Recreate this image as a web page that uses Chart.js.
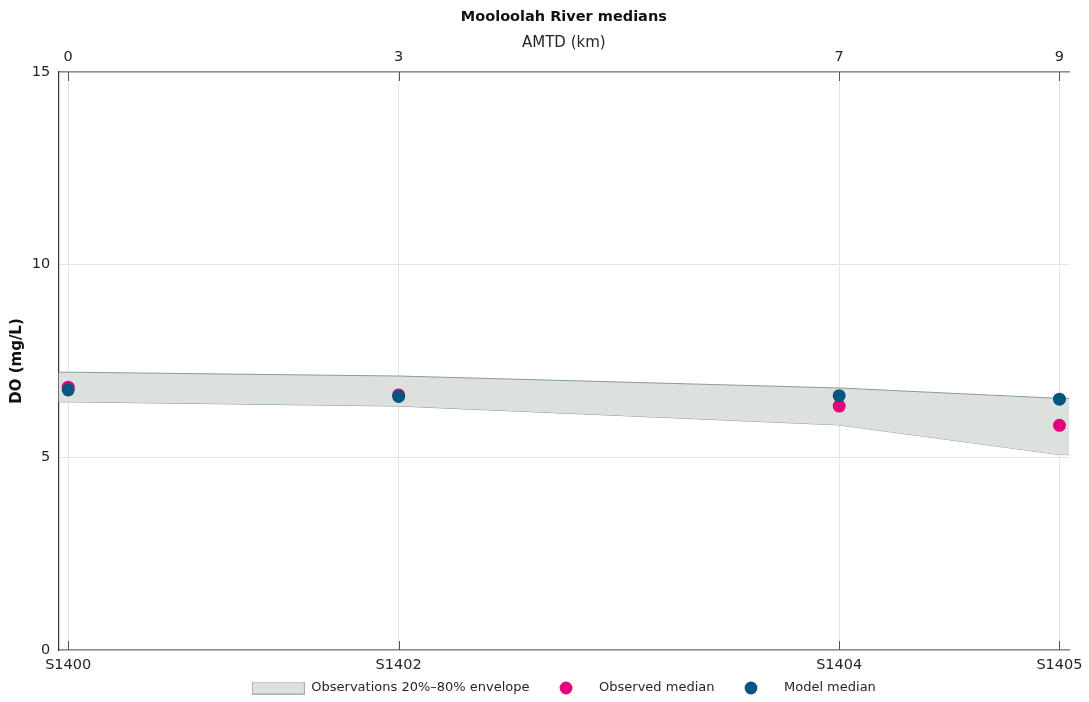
<!DOCTYPE html>
<html><head><meta charset="utf-8">
<script src="https://cdn.jsdelivr.net/npm/chart.js@4.4.1/dist/chart.umd.min.js"></script>
<style>html,body{margin:0;padding:0;background:#fff;}canvas{display:block;}</style>
</head><body>
<canvas id="c" width="1089" height="702"></canvas>
<script>
// ---- data ----
const amtdKm = [0, 3, 7, 9];
const siteLabels = ['S1400', 'S1402', 'S1404', 'S1405'];
const envLower = [6.44, 6.33, 5.84, 5.07];
const envUpper = [7.21, 7.11, 6.80, 6.53];
const observedMedian = [6.82, 6.62, 6.33, 5.83];
const modelMedian = [6.75, 6.58, 6.60, 6.51];
const xTicks = [0, 3, 7, 9];
const yTicks = [0, 5, 10, 15];
const xMin = -0.09, xMax = 9.09;
const yMin = 0, yMax = 15;

// ---- helpers ----
const toPts = (ys) => amtdKm.map((x, i) => ({ x: x, y: ys[i] }));
const envPts = (ys) => [{ x: xMin, y: ys[0] }].concat(toPts(ys), [{ x: xMax, y: ys[ys.length - 1] }]);

const PINK = '#e5007d', BLUE = '#00567f', ENV_FILL = '#dce1de', ENV_LINE = '#8a9c94';

function dotImg(color) {
  const c = document.createElement('canvas'); c.width = 14; c.height = 14;
  const g = c.getContext('2d'); g.fillStyle = color; g.beginPath(); g.arc(7, 7, 6.4, 0, Math.PI * 2); g.fill();
  return c;
}
function rectImg() {
  const c = document.createElement('canvas'); c.width = 53; c.height = 13;
  const g = c.getContext('2d'); g.fillStyle = ENV_FILL; g.fillRect(0, 0, 53, 13);
  g.strokeStyle = '#a7b0ab'; g.lineWidth = 1; g.strokeRect(0.5, 0.5, 52, 12);
  return c;
}
const legendImgs = { 1: rectImg(), 2: dotImg(PINK), 3: dotImg(BLUE) };

Chart.defaults.font.family = '"DejaVu Sans", sans-serif';
Chart.defaults.color = '#262626';

const setTicks = (vals) => (s) => { s.ticks = vals.map(v => ({ value: v })); };

const innerTicks = {
  id: 'innerTicks',
  afterDraw(chart) {
    const { ctx, chartArea: a, scales } = chart;
    ctx.save();
    ctx.strokeStyle = '#555'; ctx.lineWidth = 1;
    xTicks.forEach(v => {
      const px = Math.round(scales.x.getPixelForValue(v)) + 0.5;
      ctx.beginPath();
      ctx.moveTo(px, a.top); ctx.lineTo(px, a.top + 9);
      ctx.moveTo(px, a.bottom); ctx.lineTo(px, a.bottom - 9);
      ctx.stroke();
    });
    ctx.restore();
  }
};

new Chart(document.getElementById('c'), {
  type: 'scatter',
  data: {
    datasets: [
      { label: 'envLower', data: envPts(envLower), showLine: true, pointRadius: 0, borderColor: ENV_LINE, borderWidth: 1, fill: false, order: 3 },
      { label: 'Observations 20%–80% envelope', data: envPts(envUpper), showLine: true, pointRadius: 0, borderColor: ENV_LINE, borderWidth: 1, backgroundColor: ENV_FILL, fill: '-1', order: 2 },
      { label: 'Observed median', data: toPts(observedMedian), pointRadius: 6.5, backgroundColor: PINK, borderWidth: 0, order: 1 },
      { label: 'Model median', data: toPts(modelMedian), pointRadius: 6.5, backgroundColor: BLUE, borderWidth: 0, order: 0 }
    ]
  },
  options: {
    responsive: false,
    animation: false,
    layout: { padding: { left: 0, right: 18.3, top: 0, bottom: -2.5 } },
    plugins: {
      tooltip: { enabled: false },
      title: { display: true, fullSize: false, text: 'Mooloolah River medians', color: '#111', font: { size: 14.5, weight: 'bold' }, padding: { top: 8.3, bottom: 0 } },
      legend: {
        position: 'bottom', fullSize: false,
        labels: {
          usePointStyle: true, pointStyleWidth: 53, padding: 10, font: { size: 13 }, color: '#262626',
          generateLabels(chart) {
            const items = Chart.defaults.plugins.legend.labels.generateLabels(chart);
            return items
              .filter(it => it.datasetIndex !== 0)
              .sort((a, b) => a.datasetIndex - b.datasetIndex)
              .map(it => { it.pointStyle = legendImgs[it.datasetIndex]; return it; });
          }
        }
      }
    },
    scales: {
      x: {
        type: 'linear', position: 'bottom', min: xMin, max: xMax,
        afterBuildTicks: setTicks(xTicks),
        ticks: { callback: (v) => siteLabels[amtdKm.indexOf(v)], padding: 6.3, font: { size: 14.5 }, color: '#262626', autoSkip: false, maxRotation: 0 },
        grid: { color: '#e4e4e4', drawTicks: false },
        border: { color: '#8c8c8c', width: 1.5 },
        afterFit: (s) => { s.height = 21.5; }
      },
      x2: {
        type: 'linear', position: 'top', min: xMin, max: xMax,
        afterBuildTicks: setTicks(xTicks),
        ticks: { padding: 6.3, font: { size: 14.5 }, color: '#262626', autoSkip: false, maxRotation: 0 },
        grid: { display: false, drawTicks: false },
        border: { color: '#8c8c8c', width: 1.5 },
        title: { display: true, text: 'AMTD (km)', font: { size: 15 }, color: '#262626', padding: { top: 8.3, bottom: 0 } },
        afterFit: (s) => { s.height = 46.3; }
      },
      y: {
        type: 'linear', min: yMin, max: yMax,
        afterBuildTicks: setTicks(yTicks),
        ticks: { padding: 8, font: { size: 14.5 }, color: '#262626' },
        grid: { color: '#e4e4e4', drawTicks: false },
        border: { color: '#333', width: 1.2 },
        title: { display: true, text: 'DO (mg/L)', font: { size: 15, weight: 'bold' }, color: '#111', padding: { top: 8.5, bottom: 0 } },
        afterFit: (s) => { s.width = 58.3; }
      }
    }
  },
  plugins: [innerTicks]
});
</script>
</body></html>
